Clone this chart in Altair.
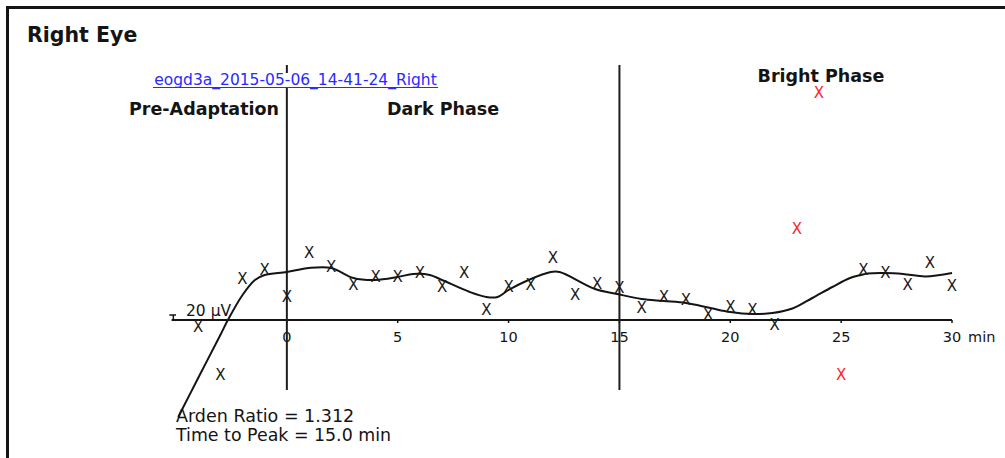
import altair as alt
import pandas as pd

# EOG recording, right eye: one amplitude sample per minute (µV)
minutes = list(range(-4, 31))
amplitude_uv = [-28, -220, 164, 200, 92, 268, 212, 140, 172, 172,
                188, 132, 188, 40, 132, 140, 248, 100, 144, 128,
                48, 92, 80, 20, 52, 40, -20, 364, 908, -220,
                200, 188, 140, 228, 136]
rejected_minutes = [23, 24, 25]

# smoothed trend through the accepted samples
curve_minutes = [-4.9, -4.0, -3.0, -2.66, -2.0, -1.44, -1.0, 0.0, 1.0, 2.0,
                 3.0, 4.0, 5.0, 5.7, 6.45, 7.0, 8.25, 9.0, 9.5, 10.0,
                 10.9, 11.9, 12.3, 13.9, 14.9, 16.0, 17.0, 18.0, 19.1, 20.0,
                 21.0, 21.9, 22.8, 23.7, 24.6, 25.4, 25.9, 26.2, 27.0, 27.8, 28.8, 30.0]
curve_uv = [-388, -232, -60, 0, 100, 160, 180, 192, 208, 208,
            168, 160, 172, 184, 180, 160, 112, 92, 92, 120,
            160, 192, 192, 124, 104, 84, 76, 68, 48, 32,
            24, 28, 46, 88, 132, 168, 180, 186, 188, 184, 174, 188]

tick_values = [0, 5, 10, 15, 20, 25, 30]
tick_labels = ["0", "5", "10", "15", "20", "25", "30"]
phase_starts = [0, 15]
axis_span = [-5.2, 30]
scale_bar_uv = 20

W, H = 1005, 458
FONT = "DejaVu Sans"
INK = "#141414"

xs = alt.Scale(domain=[-12.938, 32.39], nice=False, zero=False)
ys = alt.Scale(domain=[-552, 1280], nice=False, zero=False)

points = pd.DataFrame({
    "minute": minutes,
    "uv": amplitude_uv,
    "status": ["rejected" if m in rejected_minutes else "kept" for m in minutes],
})
curve = pd.DataFrame({"minute": curve_minutes, "uv": curve_uv})
ticks = pd.DataFrame({"minute": tick_values, "label": tick_labels,
                      "lo": [-12] * len(tick_values), "hi": [0] * len(tick_values)})
phases = pd.DataFrame({"minute": phase_starts, "lo": [-280] * 2, "hi": [1020] * 2})
one = pd.DataFrame({"k": [0]})


def label(text, x, y, size, bold=False, align="left", color=INK):
    return alt.Chart(one).mark_text(
        text=text, font=FONT, fontSize=size, fontWeight="bold" if bold else "normal",
        align=align, baseline="alphabetic", color=color,
    ).encode(x=alt.value(x), y=alt.value(y))


# outer frame (left and top edges)
frame_left = alt.Chart(one).mark_rule(color=INK, strokeWidth=3).encode(
    x=alt.value(7.5), y=alt.value(6), y2=alt.value(H))
frame_top = alt.Chart(one).mark_rule(color=INK, strokeWidth=3).encode(
    x=alt.value(6), x2=alt.value(W), y=alt.value(7.5))

# time axis drawn at the 0 µV level
axis_df = pd.DataFrame({"a": [axis_span[0]], "b": [axis_span[1]], "y": [0]})
axis_line = alt.Chart(axis_df).mark_rule(color=INK, strokeWidth=2).encode(
    x=alt.X("a:Q", scale=xs, axis=None), x2="b:Q", y=alt.Y("y:Q", scale=ys, axis=None))
tick_marks = alt.Chart(ticks).mark_rule(color=INK, strokeWidth=1.5).encode(
    x=alt.X("minute:Q", scale=xs, axis=None),
    y=alt.Y("lo:Q", scale=ys, axis=None), y2="hi:Q")
tick_text = alt.Chart(ticks).mark_text(font=FONT, fontSize=14.5, color=INK, baseline="alphabetic").encode(
    x=alt.X("minute:Q", scale=xs, axis=None), y=alt.value(342), text="label:N")
unit_text = alt.Chart(pd.DataFrame({"minute": [tick_values[-1]]})).mark_text(
    text="min", font=FONT, fontSize=14.5, color=INK, align="left", baseline="alphabetic", dx=16).encode(
    x=alt.X("minute:Q", scale=xs, axis=None), y=alt.value(342))

# 20 µV calibration bar at the start of the axis
bar_df = pd.DataFrame({"minute": [-5.12], "a": [-5.3], "b": [-5.0], "lo": [0], "hi": [scale_bar_uv]})
scale_bar = alt.Chart(bar_df).mark_rule(color=INK, strokeWidth=1.5).encode(
    x=alt.X("minute:Q", scale=xs, axis=None), y=alt.Y("lo:Q", scale=ys, axis=None), y2="hi:Q")
scale_cap = alt.Chart(bar_df).mark_rule(color=INK, strokeWidth=1.5).encode(
    x=alt.X("a:Q", scale=xs, axis=None), x2="b:Q", y=alt.Y("hi:Q", scale=ys, axis=None))
scale_text = label(f"{scale_bar_uv} µV", 186, 316, 15.5)

# phase boundaries
phase_lines = alt.Chart(phases).mark_rule(color="#1e1e1e", strokeWidth=2).encode(
    x=alt.X("minute:Q", scale=xs, axis=None), y=alt.Y("lo:Q", scale=ys, axis=None), y2="hi:Q")

# recording link
link_bg = alt.Chart(one).mark_rect(color="white").encode(
    x=alt.value(151), x2=alt.value(440), y=alt.value(73), y2=alt.value(88))
link_text = label("eogd3a_2015-05-06_14-41-24_Right", 295.5, 85, 15.5, align="center", color="#2a2aff")
link_line = alt.Chart(one).mark_rule(color="#2a2aff", strokeWidth=1).encode(
    x=alt.value(153), x2=alt.value(438), y=alt.value(87.5))

pre_text = label("Pre-Adaptation", 204, 115, 17.5, bold=True, align="center")
dark_text = label("Dark Phase", 443, 115, 17.5, bold=True, align="center")
bright_text = label("Bright Phase", 821, 82, 17.5, bold=True, align="center")

trend = alt.Chart(curve).mark_line(color=INK, strokeWidth=2, interpolate="catmull-rom").encode(
    x=alt.X("minute:Q", scale=xs, axis=None), y=alt.Y("uv:Q", scale=ys, axis=None))

samples = alt.Chart(points).mark_text(text="X", font=FONT, fontSize=15, baseline="middle").encode(
    x=alt.X("minute:Q", scale=xs, axis=None),
    y=alt.Y("uv:Q", scale=ys, axis=None),
    color=alt.Color("status:N", scale=alt.Scale(domain=["kept", "rejected"],
                                                range=["#1a1a1a", "#ff2424"]), legend=None),
)

title = label("Right Eye", 27, 42, 20.5, bold=True)
arden = label("Arden Ratio = 1.312", 176, 422, 17.5)
peak = label("Time to Peak = 15.0 min", 176, 441, 17.4)

chart = alt.layer(
    frame_left, frame_top, axis_line, tick_marks, tick_text, unit_text,
    scale_bar, scale_cap, scale_text, phase_lines, link_bg, link_text, link_line,
    pre_text, dark_text, bright_text, trend, samples, title, arden, peak,
).properties(
    width=W, height=H, padding=0, background="white",
    autosize=alt.AutoSizeParams(type="none"),
).configure_view(stroke=None)

chart.save("out.html", embed_options={"renderer": "svg", "actions": False})
